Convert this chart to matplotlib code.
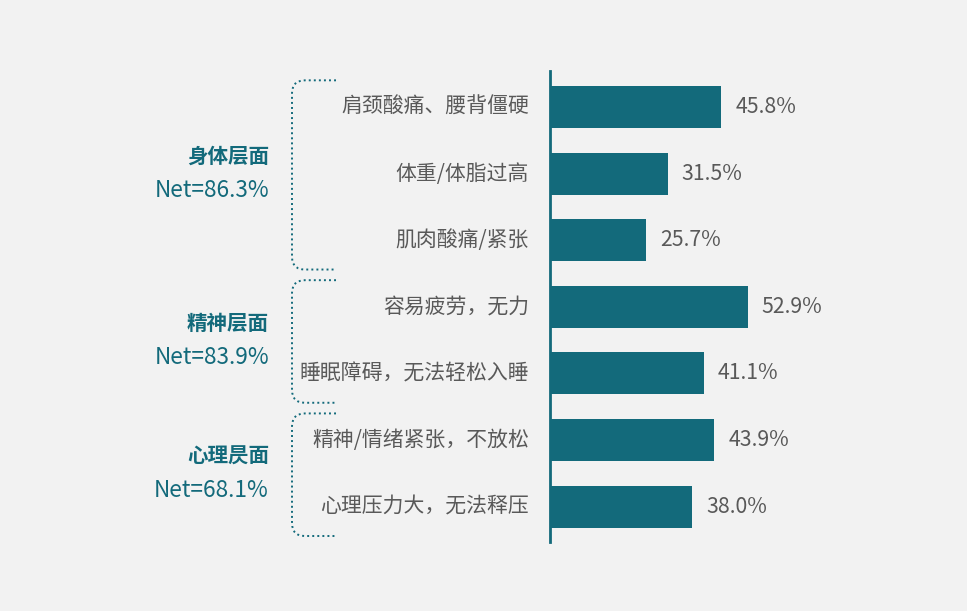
import matplotlib.pyplot as plt
from matplotlib.path import Path
from matplotlib.patches import PathPatch

plt.rcParams['font.family'] = ['Noto Sans CJK SC', 'DejaVu Sans']

# data
categories = ['肩颈酸痛、腰背僵硬', '体重/体脂过高', '肌肉酸痛/紧张',
              '容易疲劳，无力', '睡眠障碍，无法轻松入睡',
              '精神/情绪紧张，不放松', '心理压力大，无法释压']
values = [45.8, 31.5, 25.7, 52.9, 41.1, 43.9, 38.0]
groups = ['身体层面', '精神层面', '心理昃面']
group_sizes = [3, 2, 2]
group_nets = ['Net=86.3%', 'Net=83.9%', 'Net=68.1%']

BG = '#f2f2f2'
TEAL = '#136a7b'
GRAY = '#595959'

W, H = 967, 611
fig = plt.figure(figsize=(W / 100, H / 100), dpi=100, facecolor=BG)

# bar axes in pixel layout
ax_left, ax_top, ax_bottom, ax_w = 550, 71, 542, 300
ax = fig.add_axes([ax_left / W, 1 - ax_bottom / H, ax_w / W, (ax_bottom - ax_top) / H])
ax.set_facecolor(BG)

ypos = list(range(len(categories)))
ax.barh(ypos, values, height=0.63, color=TEAL, edgecolor='none', zorder=3)
ax.set_xlim(0, ax_w / 3.74)
ax.set_ylim(6.53, -0.54)

ax.spines[['top', 'right', 'bottom']].set_visible(False)
ax.spines['left'].set_color(TEAL)
ax.spines['left'].set_linewidth(2)
ax.set_xticks([])
ax.set_yticks([])

for y, v in zip(ypos, values):
    ax.annotate(f'{v:.1f}%', xy=(v, y), xytext=(14, 0), textcoords='offset pixels',
                ha='left', va='center', fontsize=15.3, color=GRAY)

# category labels, right aligned left of the axis
for y, c in zip(ypos, categories):
    ax.annotate(c, xy=(0, y), xycoords=('axes fraction', 'data'),
                xytext=(-21, 0), textcoords='offset pixels',
                ha='right', va='center', fontsize=15, color=GRAY)

# overlay in pixel coordinates for brackets and group labels
ov = fig.add_axes([0, 0, 1, 1], facecolor='none')
ov.set_xlim(0, W)
ov.set_ylim(H, 0)
ov.axis('off')


def to_px(y):
    return H - ax.transData.transform((0, y))[1]


start = 0
for g, n, net in zip(groups, group_sizes, group_nets):
    end = start + n - 1
    top = to_px(start - 0.4)
    bot = to_px(end + 0.44)
    xl, xr, r = 292, 336, 13
    verts = [(xr, top), (xl + r, top), (xl, top), (xl, top + r),
             (xl, bot - r), (xl, bot), (xl + r, bot), (xr, bot)]
    codes = [Path.MOVETO, Path.LINETO, Path.CURVE3, Path.CURVE3,
             Path.LINETO, Path.CURVE3, Path.CURVE3, Path.LINETO]
    ov.add_patch(PathPatch(Path(verts, codes), facecolor='none', edgecolor=TEAL,
                           linewidth=1.4, linestyle=(0, (1, 1.6))))
    mid = (to_px(start) + to_px(end)) / 2
    ov.text(269, mid - 17, g, ha='right', va='center', fontsize=14.8,
            fontweight='bold', color=TEAL)
    ov.text(269, mid + 17, net, ha='right', va='center', fontsize=16.3, color=TEAL)
    start += n

fig.savefig('out.png', dpi=100, facecolor=BG)
